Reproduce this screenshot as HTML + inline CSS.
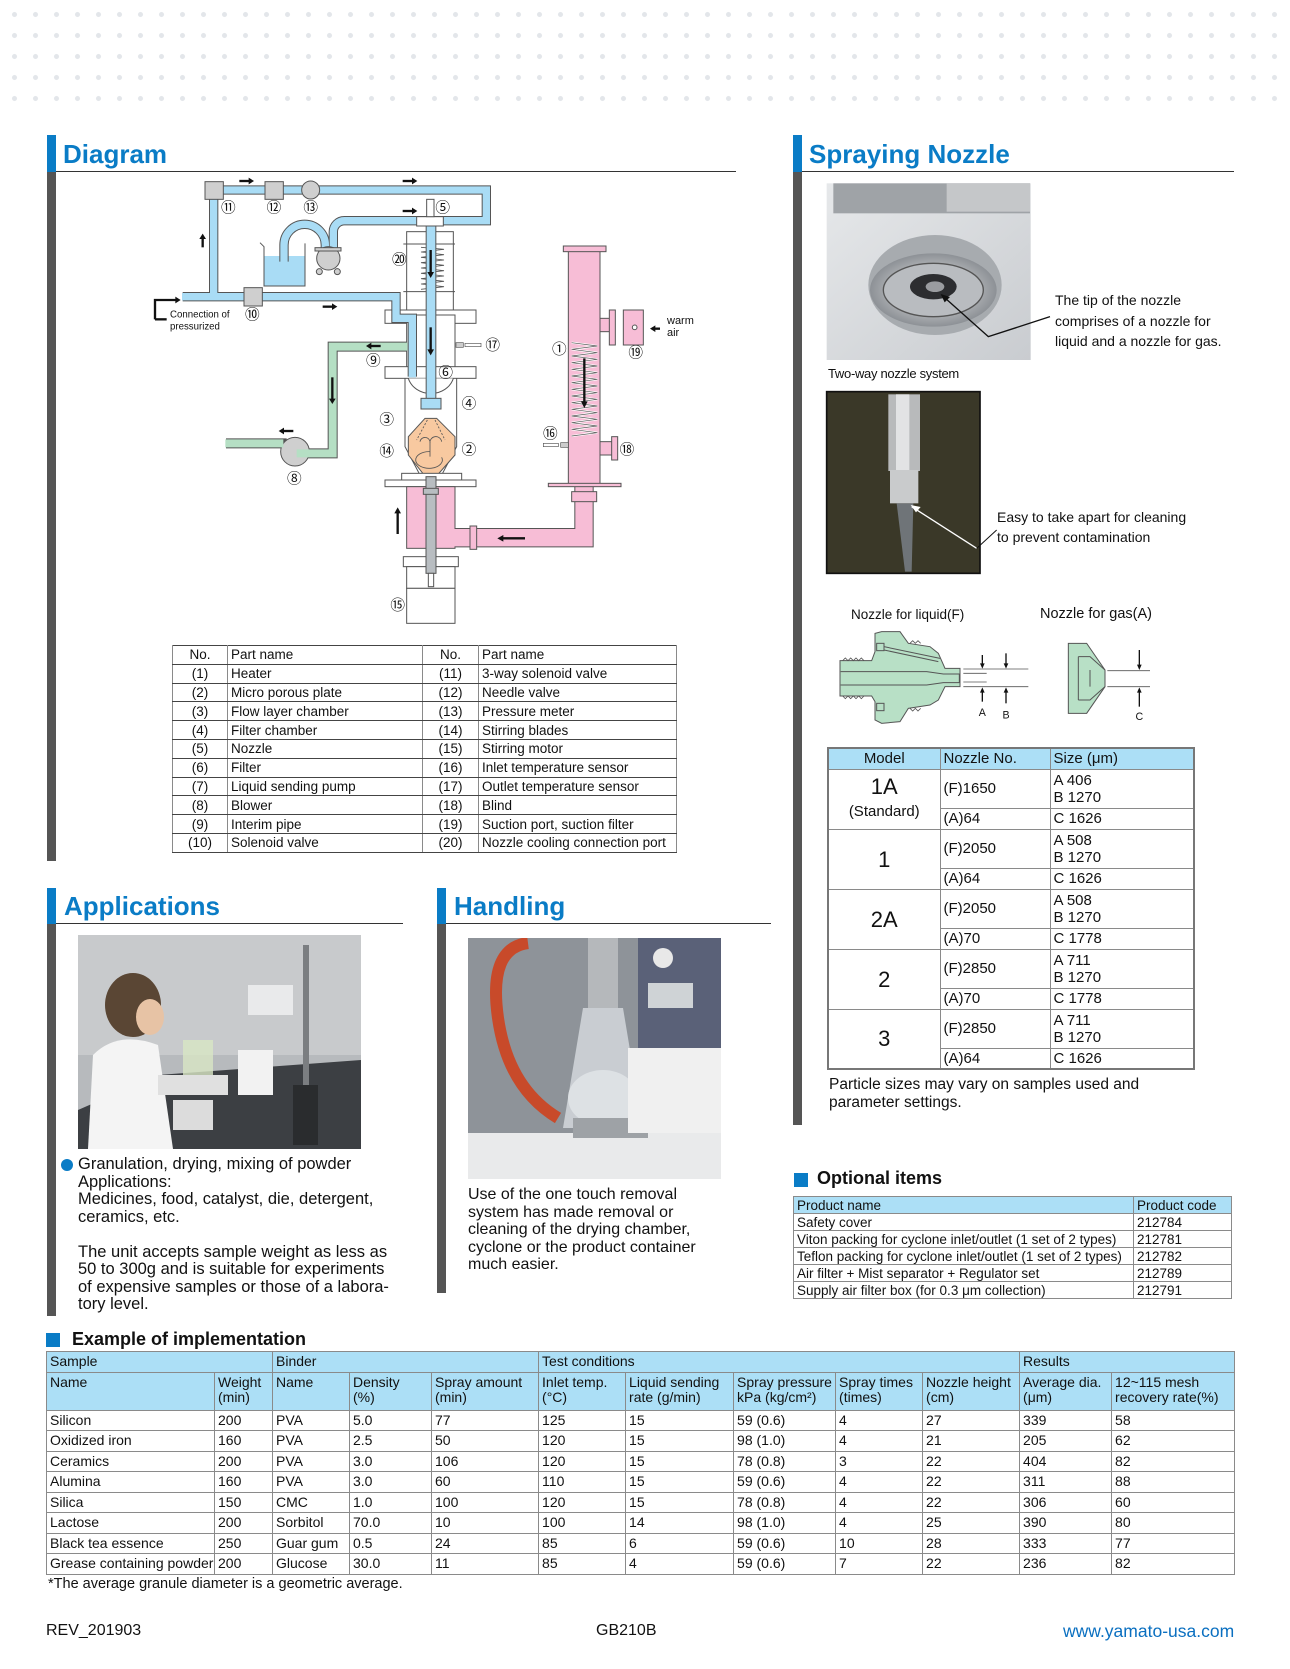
<!DOCTYPE html>
<html><head><meta charset="utf-8">
<style>
*{margin:0;padding:0;box-sizing:border-box}
body{width:1290px;height:1669px;position:relative;background:#fff;font-family:"Liberation Sans","Noto Sans CJK JP",sans-serif;color:#111;overflow:hidden}
.a{position:absolute}
.dots{left:0;top:0;width:1290px;height:102px;background-image:radial-gradient(circle,#e3e6ea 2.2px,transparent 2.8px);background-size:21px 21px;background-position:4px 4px}
.title{font-weight:bold;font-size:26px;color:#0a7cc6;line-height:30px;white-space:nowrap}
.bb{background:#0a7cc6}.bg{background:#555}
.hl{height:1px;background:#333}
table{border-collapse:collapse;table-layout:fixed}
td{border:1px solid #8a8a8a;padding:0 3px;white-space:nowrap;overflow:hidden;vertical-align:middle}
.pt td{font-size:13.5px;height:18.8px;line-height:17px;border-top:none;border-bottom:1px solid #444}
.pt{border:1px solid #444}
.pt td.c{text-align:center}
.nt td{font-size:15px;line-height:17px}
.nt tr.h td{background:#acdff6;height:21px}
.nt td.m{text-align:center;font-size:22px}
.ot td{font-size:13.5px;height:17px;line-height:15px}
.ot tr.h td{background:#acdff6}
.et td{font-size:14px;line-height:15px;height:20.5px;vertical-align:top;padding-top:2px}
.et tr.h td{background:#acdff6}
.txt{font-size:15.5px;line-height:17.5px;white-space:nowrap}
.sq{width:14px;height:14px;background:#0a7cc6}
.h2{font-weight:bold;font-size:18px;white-space:nowrap}
</style></head><body>
<div class="a dots"></div>

<div class="a bb" style="left:47px;top:135px;width:9px;height:37px"></div>
<div class="a bg" style="left:47px;top:172px;width:9px;height:689px"></div>
<div class="a title" style="left:63px;top:139px">Diagram</div>
<div class="a hl" style="left:56px;top:171px;width:680px"></div>

<svg class="a" style="left:140px;top:170px" width="520" height="460" viewBox="0 0 1560 1380">
<g stroke="#555" stroke-width="3">
 <rect x="800" y="185" width="140" height="250" fill="#fff"/>
 <line x1="790" y1="222" x2="945" y2="222"/><line x1="790" y1="365" x2="945" y2="365"/>
 <polyline points="843,232 912,238 843,246 912,254 843,262 912,270 843,278 912,286 843,294 912,302 843,310 912,318 843,326 912,334 843,342 912,350 843,358" fill="none" stroke-width="2.5"/>
 <rect x="735" y="420" width="273" height="40" fill="#fff"/>
 <rect x="800" y="435" width="145" height="160" fill="#fff"/>
 <rect x="735" y="590" width="273" height="35" fill="#fff"/>
 <path d="M795,625 L795,830 L840,915 M950,625 L950,830 L905,915" fill="none"/>
 <path d="M805,625 A70,62 0 0 0 940,625" fill="#fff"/>
 <polygon points="855,745 890,745 945,800 945,855 895,912 850,912 805,855 805,800" fill="#f8c9a0"/>
 <path d="M862,750 L830,810 M885,750 L915,810" stroke-dasharray="6,5" fill="none" stroke-width="2.5"/>
 <path d="M870,860 L870,820 A15,15 0 0 0 840,815 M870,820 A15,15 0 0 1 905,815 M905,862 A40,25 0 1 1 870,845" fill="none" stroke-width="2.5"/>
 <rect x="785" y="910" width="180" height="20" fill="#fff"/>
 <rect x="735" y="930" width="273" height="20" fill="#fff"/>
 <rect x="800" y="950" width="145" height="185" fill="#f7bdd6"/>
 <path d="M1332,945 L1332,1103 L945,1103" fill="none" stroke="#555" stroke-width="58"/>
 <path d="M1332,945 L1332,1103 L940,1103" fill="none" stroke="#f7bdd6" stroke-width="52"/>
 <rect x="990" y="1068" width="20" height="70" fill="#f7bdd6"/>
 <rect x="1295" y="965" width="75" height="30" fill="#f7bdd6"/>
 <rect x="1285" y="240" width="95" height="705" fill="#f7bdd6"/>
 <rect x="1270" y="228" width="128" height="17" fill="#f7bdd6"/>
 <rect x="1225" y="940" width="218" height="10" fill="#f7bdd6"/>
 <rect x="1380" y="445" width="40" height="40" fill="#f7bdd6"/>
 <rect x="1408" y="420" width="18" height="105" fill="#f7bdd6"/>
 <rect x="1450" y="420" width="60" height="105" fill="#f7bdd6"/>
 <circle cx="1484" cy="472" r="7" fill="#fff"/>
 <rect x="1380" y="815" width="40" height="40" fill="#f7bdd6"/>
 <rect x="1415" y="800" width="18" height="70" fill="#f7bdd6"/>
 <polyline points="1295,518 1372,528 1295,538 1372,548 1295,558 1372,568 1295,578 1372,588 1295,598 1372,608 1295,618 1372,628 1295,638 1372,648 1295,658 1372,668 1295,678 1372,688 1295,698 1372,708 1295,718 1372,728 1295,738 1372,748 1295,758 1372,768 1295,778 1372,788 1295,798" fill="none" stroke="#fff" stroke-width="6"/>
 <polyline points="1295,518 1372,528 1295,538 1372,548 1295,558 1372,568 1295,578 1372,588 1295,598 1372,608 1295,618 1372,628 1295,638 1372,648 1295,658 1372,668 1295,678 1372,688 1295,698 1372,708 1295,718 1372,728 1295,738 1372,748 1295,758 1372,768 1295,778 1372,788 1295,798" fill="none" stroke-width="2"/>
 <rect x="1210" y="820" width="45" height="10" fill="#fff" stroke-width="2"/><rect x="1262" y="818" width="23" height="14" fill="#ccc" stroke-width="2"/>
 <rect x="975" y="520" width="48" height="10" fill="#fff" stroke-width="2"/><rect x="948" y="518" width="22" height="14" fill="#ccc" stroke-width="2"/>
 <rect x="790" y="1160" width="165" height="30" fill="#fff"/>
 <rect x="800" y="1190" width="145" height="65" fill="#fff"/>
 <rect x="858" y="920" width="30" height="290" fill="#b8bdc1"/>
 <rect x="850" y="955" width="45" height="18" fill="#b8bdc1"/>
 <rect x="865" y="1210" width="16" height="40" fill="#fff"/>
 <rect x="800" y="1255" width="145" height="105" fill="#fff"/>
 <path d="M800,530 L578,530 L578,850 L470,850" fill="none" stroke="#555" stroke-width="30"/>
 <path d="M258,820 L440,820" fill="none" stroke="#555" stroke-width="30"/>
 <circle cx="465" cy="845" r="43" fill="#cfcfcf"/>
 <path d="M803,530 L578,530 L578,850 L470,850" fill="none" stroke="#b5dfc4" stroke-width="24"/>
 <path d="M256,820 L430,820" fill="none" stroke="#b5dfc4" stroke-width="24"/>
 <rect x="372" y="258" width="123" height="90" fill="#a9dcf5" stroke="none"/>
 <path d="M360,218 L372,230 L372,348 L495,348 L495,220" fill="none"/>
 <g fill="none" stroke-linejoin="miter">
 <path d="M128,380 L768,380 L768,445 L817,445 L817,620" stroke="#555" stroke-width="28"/>
 <path d="M221,380 L221,60 L1039,60 L1039,152 L830,152" stroke="#555" stroke-width="28"/>
 <path d="M432,275 L432,225 A62,62 0 0 1 556,225 L556,245" stroke="#555" stroke-width="28"/>
 <path d="M580,240 L580,185 A33,33 0 0 1 613,152 L830,152" stroke="#555" stroke-width="28"/>
 <path d="M873,160 L873,700" stroke="#555" stroke-width="32"/>
 <path d="M126,380 L768,380 L768,445 L817,445 L817,622" stroke="#a9dcf5" stroke-width="22"/>
 <path d="M221,380 L221,60 L1039,60 L1039,152 L828,152" stroke="#a9dcf5" stroke-width="22"/>
 <path d="M432,280 L432,225 A62,62 0 0 1 556,225 L556,245" stroke="#a9dcf5" stroke-width="22"/>
 <path d="M580,240 L580,185 A33,33 0 0 1 613,152 L832,152" stroke="#a9dcf5" stroke-width="22"/>
 <path d="M873,150 L873,700" stroke="#a9dcf5" stroke-width="26"/>
 </g>
 <rect x="830" y="140" width="80" height="28" fill="#fff"/>
 <rect x="860" y="88" width="22" height="52" fill="#fff"/>
 <rect x="843" y="685" width="60" height="32" fill="#a9dcf5"/>
 <circle cx="565" cy="265" r="35" fill="#cfcfcf"/>
 <rect x="525" y="233" width="78" height="10" fill="#cfcfcf"/>
 <circle cx="538" cy="305" r="9" fill="#cfcfcf"/><circle cx="592" cy="305" r="9" fill="#cfcfcf"/>
 <rect x="195" y="35" width="55" height="53" fill="#cfcfcf"/>
 <rect x="375" y="35" width="55" height="53" fill="#cfcfcf"/>
 <circle cx="512" cy="60" r="27" fill="#cfcfcf"/>
 <rect x="312" y="353" width="55" height="55" fill="#cfcfcf"/>
 <path d="M465,845 m-22,0 a22,22 0 1 0 0,0" fill="#b5dfc4"/>
</g>
<g stroke="#111" stroke-width="7" fill="#111">
 <line x1="298" y1="33" x2="330" y2="33"/><polygon points="342,33 326,23 326,43" stroke="none"/>
 <line x1="788" y1="33" x2="820" y2="33"/><polygon points="832,33 816,23 816,43" stroke="none"/>
 <line x1="788" y1="123" x2="820" y2="123"/><polygon points="832,123 816,113 816,133" stroke="none"/>
 <line x1="188" y1="232" x2="188" y2="205"/><polygon points="188,191 178,207 198,207" stroke="none"/>
 <line x1="548" y1="410" x2="578" y2="410"/><polygon points="592,410 576,400 576,420" stroke="none"/>
 <line x1="872" y1="240" x2="872" y2="308"/><polygon points="872,324 862,306 882,306" stroke="none"/>
 <line x1="872" y1="472" x2="872" y2="540"/><polygon points="872,556 862,538 882,538" stroke="none"/>
 <line x1="722" y1="528" x2="692" y2="528"/><polygon points="678,528 694,518 694,538" stroke="none"/>
 <line x1="577" y1="622" x2="577" y2="688"/><polygon points="577,702 567,686 587,686" stroke="none"/>
 <line x1="460" y1="783" x2="430" y2="783"/><polygon points="416,783 432,773 432,793" stroke="none"/>
 <line x1="773" y1="1092" x2="773" y2="1028"/><polygon points="773,1012 763,1030 783,1030" stroke="none"/>
 <line x1="1155" y1="1105" x2="1088" y2="1105"/><polygon points="1072,1105 1090,1095 1090,1115" stroke="none"/>
 <line x1="1333" y1="565" x2="1333" y2="696"/><polygon points="1333,714 1323,694 1343,694" stroke="none"/>
 <line x1="1575" y1="476" x2="1545" y2="476"/><polygon points="1530,476 1546,466 1546,486" stroke="none"/>
 <path d="M45,448 L45,390 L108,390" fill="none"/><polygon points="122,390 106,380 106,400" stroke="none"/>
 <line x1="45" y1="448" x2="80" y2="448"/>
</g>
<g font-family="Noto Sans CJK JP,sans-serif" font-size="44" fill="#111" text-anchor="middle">
 <text x="265" y="128">⑪</text><text x="402" y="128">⑫</text><text x="512" y="128">⑬</text>
 <text x="908" y="128">⑤</text><text x="778" y="283">⑳</text><text x="337" y="448">⑩</text>
 <text x="1058" y="540">⑰</text><text x="700" y="587">⑨</text><text x="917" y="622">⑥</text>
 <text x="987" y="715">④</text><text x="740" y="763">③</text><text x="740" y="858">⑭</text>
 <text x="987" y="853">②</text><text x="463" y="940">⑧</text><text x="773" y="1320">⑮</text>
 <text x="1258" y="552">①</text><text x="1487" y="563">⑲</text><text x="1231" y="805">⑯</text>
 <text x="1461" y="853">⑱</text>
</g>
<g font-family="Liberation Sans,sans-serif" font-size="29" fill="#111">
 <text x="90" y="442">Connection of</text><text x="90" y="478">pressurized</text>
</g>
</svg>
<div class="a" style="left:667px;top:315px;font-size:11px;line-height:12px">warm<br>air</div>

<table class="a pt" style="left:172px;top:645px;width:504px">
<colgroup><col style="width:55px"><col style="width:195px"><col style="width:56px"><col style="width:198px"></colgroup>
<tr><td class="c">No.</td><td>Part name</td><td class="c">No.</td><td>Part name</td></tr>
<tr><td class="c">(1)</td><td>Heater</td><td class="c">(11)</td><td>3-way solenoid valve</td></tr>
<tr><td class="c">(2)</td><td>Micro porous plate</td><td class="c">(12)</td><td>Needle valve</td></tr>
<tr><td class="c">(3)</td><td>Flow layer chamber</td><td class="c">(13)</td><td>Pressure meter</td></tr>
<tr><td class="c">(4)</td><td>Filter chamber</td><td class="c">(14)</td><td>Stirring blades</td></tr>
<tr><td class="c">(5)</td><td>Nozzle</td><td class="c">(15)</td><td>Stirring motor</td></tr>
<tr><td class="c">(6)</td><td>Filter</td><td class="c">(16)</td><td>Inlet temperature sensor</td></tr>
<tr><td class="c">(7)</td><td>Liquid sending pump</td><td class="c">(17)</td><td>Outlet temperature sensor</td></tr>
<tr><td class="c">(8)</td><td>Blower</td><td class="c">(18)</td><td>Blind</td></tr>
<tr><td class="c">(9)</td><td>Interim pipe</td><td class="c">(19)</td><td>Suction port, suction filter</td></tr>
<tr><td class="c">(10)</td><td>Solenoid valve</td><td class="c">(20)</td><td>Nozzle cooling connection port</td></tr>
</table>

<div class="a bb" style="left:793px;top:135px;width:9px;height:37px"></div>
<div class="a bg" style="left:793px;top:172px;width:9px;height:953px"></div>
<div class="a title" style="left:809px;top:139px">Spraying Nozzle</div>
<div class="a hl" style="left:802px;top:171px;width:432px"></div>

<svg class="a" style="left:820px;top:175px" width="420" height="410" viewBox="0 0 1260 1230">
 <defs>
  <linearGradient id="g1" x1="0" y1="0" x2="1" y2="1"><stop offset="0" stop-color="#e6e8ea"/><stop offset="1" stop-color="#c9ccd0"/></linearGradient>
  <radialGradient id="g2"><stop offset="0" stop-color="#f2f2f2"/><stop offset="1" stop-color="#8d9196"/></radialGradient>
 </defs>
 <rect x="20" y="25" width="612" height="530" fill="url(#g1)"/>
 <rect x="40" y="25" width="590" height="90" fill="#9fa3a7"/>
 <rect x="380" y="25" width="250" height="85" fill="#c5c7c9"/>
 <ellipse cx="345" cy="330" rx="200" ry="150" fill="#a7abaf"/>
 <ellipse cx="340" cy="345" rx="190" ry="110" fill="url(#g2)"/>
 <ellipse cx="340" cy="345" rx="150" ry="80" fill="#b9bcc0" stroke="#555" stroke-width="4"/>
 <ellipse cx="340" cy="335" rx="70" ry="38" fill="#2c2d30"/>
 <ellipse cx="345" cy="335" rx="28" ry="16" fill="#9a9ca0"/>
 <polyline points="365,360 505,485 690,425" fill="none" stroke="#111" stroke-width="4"/>
 <polygon points="362,357 390,366 374,382" fill="#111"/>
 <rect x="20" y="650" width="460" height="545" fill="#3a3828" stroke="#111" stroke-width="5"/>
 <rect x="205" y="658" width="95" height="230" fill="#b8babb"/>
 <rect x="228" y="658" width="40" height="230" fill="#e2e3e4"/>
 <rect x="210" y="885" width="85" height="100" fill="#c9cbcc"/>
 <polygon points="230,985 280,985 275,1190 255,1190" fill="#6f7478"/>
 <polyline points="275,995 470,1120" fill="none" stroke="#fff" stroke-width="4"/>
 <polygon points="272,990 302,996 288,1012" fill="#fff"/>
 <line x1="470" y1="1120" x2="530" y2="1065" stroke="#111" stroke-width="3"/>
</svg>
<div class="a" style="left:1055px;top:290px;font-size:14px;line-height:20.5px;white-space:nowrap">The tip of the nozzle<br>comprises of a nozzle for<br>liquid and a nozzle for gas.</div>
<div class="a" style="left:828px;top:366px;font-size:13px;white-space:nowrap;letter-spacing:-0.3px">Two-way nozzle system</div>
<div class="a" style="left:997px;top:507px;font-size:14px;line-height:20px;white-space:nowrap">Easy to take apart for cleaning<br>to prevent contamination</div>

<div class="a" style="left:851px;top:607px;font-size:13.5px;white-space:nowrap">Nozzle for liquid(F)</div>
<div class="a" style="left:1040px;top:606px;font-size:14.5px;white-space:nowrap">Nozzle for gas(A)</div>
<svg class="a" style="left:820px;top:590px" width="420" height="150" viewBox="0 0 1260 450">
 <g stroke="#555" stroke-width="3" fill="#b8e0c6">
  <path d="M60,212 L155,212 L165,185 L165,130 L185,125 L240,125 L265,160 L330,170 L355,190 L375,235 L420,235 L420,290 L375,290 L355,330 L330,345 L265,355 L240,395 L185,400 L165,390 L165,335 L155,318 L60,318 Z"/>
  <path d="M62,245 L320,245 L370,252 L418,252 L418,278 L370,278 L320,285 L62,285" fill="#b8e0c6"/>
  <rect x="170" y="160" width="22" height="22"/><rect x="170" y="340" width="22" height="22"/>
  <path d="M192,170 L360,205 M192,180 L355,215" fill="none"/>
  <path d="M745,160 L800,160 L855,240 L855,290 L800,370 L745,370 Z"/>
  <path d="M775,200 L810,200 L855,240 M775,330 L810,330 L855,290 M775,200 L775,330 M810,240 L810,290" fill="none"/>
 </g>
 <g stroke="#555" stroke-width="2.5" fill="none">
  <path d="M68,212 l8,-8 l8,8 l8,-8 l8,8 l8,-8 l8,8 l8,-8 l8,8 M68,318 l8,8 l8,-8 l8,8 l8,-8 l8,8 l8,-8 l8,8 l8,-8 M270,160 l8,-8 l8,8 l8,-8 l8,8 M270,355 l8,8 l8,-8 l8,8 l8,-8"/>
  <line x1="430" y1="237" x2="625" y2="237"/><line x1="430" y1="290" x2="625" y2="290"/>
  <line x1="430" y1="250" x2="500" y2="250"/><line x1="430" y1="276" x2="500" y2="276"/>
  <line x1="862" y1="242" x2="990" y2="242"/><line x1="862" y1="290" x2="990" y2="290"/>
 </g>
 <g stroke="#111" stroke-width="4" fill="#111">
  <line x1="487" y1="195" x2="487" y2="225"/><polygon points="487,236 480,220 494,220" stroke="none"/>
  <line x1="487" y1="335" x2="487" y2="305"/><polygon points="487,292 480,308 494,308" stroke="none"/>
  <line x1="558" y1="190" x2="558" y2="225"/><polygon points="558,236 551,220 565,220" stroke="none"/>
  <line x1="558" y1="340" x2="558" y2="305"/><polygon points="558,292 551,308 565,308" stroke="none"/>
  <line x1="958" y1="180" x2="958" y2="228"/><polygon points="958,240 951,224 965,224" stroke="none"/>
  <line x1="958" y1="350" x2="958" y2="305"/><polygon points="958,292 951,308 965,308" stroke="none"/>
 </g>
 <g font-family="Liberation Sans,sans-serif" font-size="32" fill="#111" text-anchor="middle">
  <text x="487" y="378">A</text><text x="558" y="385">B</text><text x="958" y="390">C</text>
 </g>
</svg>

<table class="a nt" style="left:827px;top:747px;width:366px;border:2px solid #777">
<colgroup><col style="width:112px"><col style="width:110px"><col style="width:144px"></colgroup>
<tr class="h"><td style="text-align:center">Model</td><td>Nozzle No.</td><td>Size (μm)</td></tr>
<tr style="height:39px"><td class="m" rowspan="2" style="line-height:22px">1A<br><span style="font-size:15px">(Standard)</span></td><td>(F)1650</td><td>A 406<br>B 1270</td></tr>
<tr style="height:21px"><td>(A)64</td><td>C 1626</td></tr>
<tr style="height:39px"><td class="m" rowspan="2">1</td><td>(F)2050</td><td>A 508<br>B 1270</td></tr>
<tr style="height:21px"><td>(A)64</td><td>C 1626</td></tr>
<tr style="height:39px"><td class="m" rowspan="2">2A</td><td>(F)2050</td><td>A 508<br>B 1270</td></tr>
<tr style="height:21px"><td>(A)70</td><td>C 1778</td></tr>
<tr style="height:39px"><td class="m" rowspan="2">2</td><td>(F)2850</td><td>A 711<br>B 1270</td></tr>
<tr style="height:21px"><td>(A)70</td><td>C 1778</td></tr>
<tr style="height:39px"><td class="m" rowspan="2">3</td><td>(F)2850</td><td>A 711<br>B 1270</td></tr>
<tr style="height:21px"><td>(A)64</td><td>C 1626</td></tr>
</table>
<div class="a txt" style="left:829px;top:1076px">Particle sizes may vary on samples used and<br>parameter settings.</div>

<div class="a bb" style="left:47px;top:888px;width:9px;height:36px"></div>
<div class="a bg" style="left:47px;top:924px;width:9px;height:392px"></div>
<div class="a title" style="left:64px;top:891px">Applications</div>
<div class="a hl" style="left:56px;top:923px;width:347px"></div>
<svg class="a" style="left:78px;top:935px" width="283" height="214" viewBox="0 0 283 214">
 <rect width="283" height="214" fill="#b7babd"/>
 <rect x="0" y="0" width="283" height="120" fill="#c8cacc"/>
 <polygon points="0,214 0,175 80,140 283,125 283,214" fill="#3c3f43"/>
 <ellipse cx="55" cy="70" rx="28" ry="32" fill="#5a4634"/>
 <path d="M10,214 L15,120 Q40,95 80,110 L95,214 Z" fill="#f4f4f4"/>
 <ellipse cx="72" cy="82" rx="14" ry="18" fill="#e7c3a5"/>
 <rect x="225" y="10" width="6" height="180" fill="#7b7e81"/>
 <rect x="170" y="50" width="45" height="30" fill="#e9eaeb"/>
 <rect x="105" y="105" width="30" height="40" fill="#d8e6c4" opacity=".8"/>
 <rect x="160" y="115" width="35" height="45" fill="#f2f2f2"/>
 <rect x="80" y="140" width="70" height="20" fill="#e0e0e0"/>
 <rect x="95" y="165" width="40" height="30" fill="#dcdcdc"/>
 <rect x="215" y="150" width="25" height="60" fill="#2a2c2e"/>
</svg>
<div class="a" style="left:61px;top:1159px;width:12px;height:12px;border-radius:50%;background:#0a7cc6"></div>
<div class="a txt" style="left:78px;top:1156px;font-size:16.5px">Granulation, drying, mixing of powder<br>Applications:<br>Medicines, food, catalyst, die, detergent,<br>ceramics, etc.<br><br>The unit accepts sample weight as less as<br>50 to 300g and is suitable for experiments<br>of expensive samples or those of a labora-<br>tory level.</div>

<div class="a bb" style="left:437px;top:888px;width:9px;height:36px"></div>
<div class="a bg" style="left:437px;top:924px;width:9px;height:369px"></div>
<div class="a title" style="left:454px;top:891px">Handling</div>
<div class="a hl" style="left:446px;top:923px;width:325px"></div>
<svg class="a" style="left:468px;top:938px" width="253" height="241" viewBox="0 0 253 241">
 <rect width="253" height="241" fill="#8e9399"/>
 <rect x="170" y="0" width="83" height="110" fill="#5a6178"/>
 <circle cx="195" cy="20" r="10" fill="#e8e8e8"/>
 <rect x="180" y="45" width="45" height="25" fill="#cfd3d6"/>
 <rect x="120" y="0" width="30" height="70" fill="#b5b8bb"/>
 <path d="M115,70 L155,70 L175,190 L95,190 Z" fill="#cfd4d8" opacity=".9"/>
 <ellipse cx="135" cy="160" rx="35" ry="28" fill="#dde1e4"/>
 <path d="M60,5 Q20,10 30,80 Q40,150 90,180" fill="none" stroke="#c84a2a" stroke-width="12"/>
 <rect x="0" y="195" width="253" height="46" fill="#e9eaeb"/>
 <rect x="105" y="180" width="75" height="20" fill="#9ea2a6"/>
 <rect x="160" y="110" width="93" height="85" fill="#f0f0f0"/>
</svg>
<div class="a txt" style="left:468px;top:1186px;font-size:16px">Use of the one touch removal<br>system has made removal or<br>cleaning of the drying chamber,<br>cyclone or the product container<br>much easier.</div>

<div class="a sq" style="left:794px;top:1173px"></div>
<div class="a h2" style="left:817px;top:1168px">Optional items</div>
<table class="a ot" style="left:793px;top:1196px;width:438px;border:1px solid #777">
<colgroup><col style="width:340px"><col style="width:98px"></colgroup>
<tr class="h"><td>Product name</td><td>Product code</td></tr>
<tr><td>Safety cover</td><td>212784</td></tr>
<tr><td>Viton packing for cyclone inlet/outlet (1 set of 2 types)</td><td>212781</td></tr>
<tr><td>Teflon packing for cyclone inlet/outlet (1 set of 2 types)</td><td>212782</td></tr>
<tr><td>Air filter + Mist separator + Regulator set</td><td>212789</td></tr>
<tr><td>Supply air filter box (for 0.3 μm collection)</td><td>212791</td></tr>
</table>

<div class="a sq" style="left:46px;top:1333px"></div>
<div class="a h2" style="left:72px;top:1329px">Example of implementation</div>
<table class="a et" style="left:46px;top:1351px;width:1188px;border:1px solid #888">
<colgroup><col style="width:168px"><col style="width:58px"><col style="width:77px"><col style="width:82px"><col style="width:107px"><col style="width:87px"><col style="width:108px"><col style="width:102px"><col style="width:87px"><col style="width:97px"><col style="width:92px"><col style="width:123px"></colgroup>
<tr class="h" style="height:20px"><td colspan="2">Sample</td><td colspan="3">Binder</td><td colspan="5">Test conditions</td><td colspan="2">Results</td></tr>
<tr class="h" style="height:38px"><td>Name</td><td>Weight<br>(min)</td><td>Name</td><td>Density<br>(%)</td><td>Spray amount<br>(min)</td><td>Inlet temp.<br>(°C)</td><td>Liquid sending<br>rate (g/min)</td><td>Spray pressure<br>kPa (kg/cm²)</td><td>Spray times<br>(times)</td><td>Nozzle height<br>(cm)</td><td>Average dia.<br>(μm)</td><td>12~115 mesh<br>recovery rate(%)</td></tr>
<tr><td>Silicon</td><td>200</td><td>PVA</td><td>5.0</td><td>77</td><td>125</td><td>15</td><td>59 (0.6)</td><td>4</td><td>27</td><td>339</td><td>58</td></tr>
<tr><td>Oxidized iron</td><td>160</td><td>PVA</td><td>2.5</td><td>50</td><td>120</td><td>15</td><td>98 (1.0)</td><td>4</td><td>21</td><td>205</td><td>62</td></tr>
<tr><td>Ceramics</td><td>200</td><td>PVA</td><td>3.0</td><td>106</td><td>120</td><td>15</td><td>78 (0.8)</td><td>3</td><td>22</td><td>404</td><td>82</td></tr>
<tr><td>Alumina</td><td>160</td><td>PVA</td><td>3.0</td><td>60</td><td>110</td><td>15</td><td>59 (0.6)</td><td>4</td><td>22</td><td>311</td><td>88</td></tr>
<tr><td>Silica</td><td>150</td><td>CMC</td><td>1.0</td><td>100</td><td>120</td><td>15</td><td>78 (0.8)</td><td>4</td><td>22</td><td>306</td><td>60</td></tr>
<tr><td>Lactose</td><td>200</td><td>Sorbitol</td><td>70.0</td><td>10</td><td>100</td><td>14</td><td>98 (1.0)</td><td>4</td><td>25</td><td>390</td><td>80</td></tr>
<tr><td>Black tea essence</td><td>250</td><td>Guar gum</td><td>0.5</td><td>24</td><td>85</td><td>6</td><td>59 (0.6)</td><td>10</td><td>28</td><td>333</td><td>77</td></tr>
<tr><td>Grease containing powder</td><td>200</td><td>Glucose</td><td>30.0</td><td>11</td><td>85</td><td>4</td><td>59 (0.6)</td><td>7</td><td>22</td><td>236</td><td>82</td></tr>
</table>
<div class="a" style="left:48px;top:1576px;font-size:14.5px;white-space:nowrap">*The average granule diameter is a geometric average.</div>

<div class="a" style="left:46px;top:1622px;font-size:16px">REV_201903</div>
<div class="a" style="left:596px;top:1622px;font-size:16px">GB210B</div>
<div class="a" style="left:1063px;top:1621px;font-size:17.5px;color:#0a6fc0;white-space:nowrap">www.yamato-usa.com</div>
</body></html>
